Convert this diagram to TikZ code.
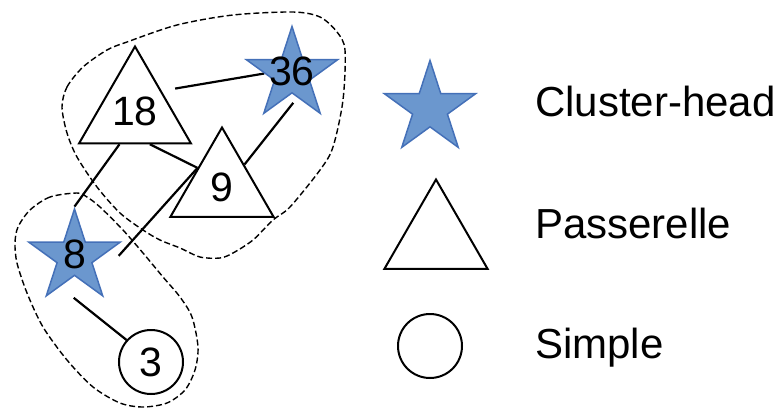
\documentclass[tikz,border=0pt]{standalone}
\usepackage{fontspec}
\setmainfont{Liberation Sans}
\usepackage{tikz}
\usetikzlibrary{shapes.geometric,positioning,backgrounds}
\definecolor{ink}{HTML}{000000}
\definecolor{chfill}{HTML}{6B97CE}
\definecolor{chdraw}{HTML}{4470B8}
\newcommand\numfont{\fontsize{41}{48}\selectfont}
\newcommand\lblfont{\fontsize{42}{50}\selectfont}
\tikzset{
  chead/.style={star,star points=5,star point ratio=2.62,minimum size=96pt,inner sep=0pt,
    fill=chfill,draw=chdraw,line width=1.5pt},
  pass/.style={regular polygon,regular polygon sides=3,minimum size=119pt,inner sep=0pt,
    draw=ink,fill=white,line width=2pt,font=\numfont},
  simple/.style={circle,minimum size=64pt,inner sep=0pt,draw=ink,fill=white,line width=2pt,
    font=\numfont},
  num/.style={font=\numfont,inner sep=0pt,yshift=3pt},
  link/.style={draw=ink,line width=2.2pt},
  clus/.style={draw=ink,line width=1.4pt,dash pattern=on 6pt off 3pt},
  lbl/.style={font=\lblfont,anchor=base west,inner sep=0pt,text=ink}
}
\begin{document}
\begin{tikzpicture}[x=1pt,y=-1pt]
  \useasboundingbox (0,0) rectangle (780,410);
  % nodes
  \node[pass] (t18) at (135,111) {18};
  \node[pass] (t9) at (222,187) {9};
  \node[chead,label={[num]center:36}] (s36) at (292,74.5) {};
  \node[chead,label={[num]center:8}] (s8) at (74.5,257) {};
  \node[simple] (c3) at (151,362) {3};
  % legend
  \node[chead] (lstar) at (430,108.5) {};
  \node[pass] (lpass) at (436,239) {};
  \node[simple] (lsimple) at (430,346) {};
  \node[lbl] (tch) at (535,116) {Cluster-head};
  \node[lbl] (tpass) at (535,238) {Passerelle};
  \node[lbl] (tsimple) at (535,358) {Simple};
  \begin{scope}[on background layer]
    % clusters
    \draw[clus] plot[smooth cycle] coordinates {(62,107) (67,87) (83,67) (107,50) (127,42)
      (177,25) (233,15) (293,12) (320,17) (337,32) (345,50) (343,100) (333,147) (320,170)
      (290,207) (273,220) (253,240) (233,253) (220,258) (200,257) (180,248) (160,240)
      (143,230) (120,213) (97,187) (77,157) (67,133)};
    \draw[clus] plot[smooth cycle] coordinates {(77,193) (50,197) (30,210) (18,227) (15,243)
      (17,263) (27,293) (43,327) (67,360) (93,387) (120,403) (143,407) (167,403) (185,390)
      (195,370) (198,347) (192,317) (180,297) (163,277) (143,253) (123,230) (100,207) (87,197)};
    % links
    \draw[link,shorten <=13.6pt] (t18.37) -- (s36.178);
    \draw[link,shorten <=6.6pt] (s36.283) -- (t9.45);
    \draw[link] (t18.294) -- (t9.142);
    \draw[link] (t18.245) -- (s8.90);
    \draw[link,shorten >=31pt] (t9.142) -- (s8.317);
    \draw[link,shorten <=17.6pt] (s8.244) -- (c3.138);
  \end{scope}
\end{tikzpicture}
\end{document}
